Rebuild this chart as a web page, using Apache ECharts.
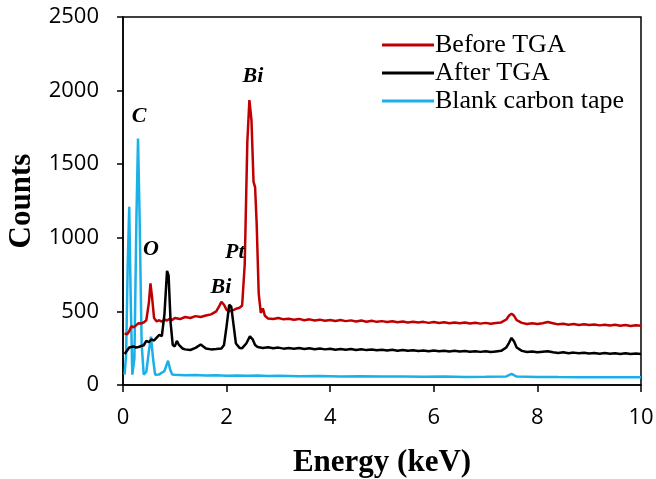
<!DOCTYPE html>
<html>
<head>
<meta charset="utf-8">
<script src="https://cdn.jsdelivr.net/npm/echarts@6/dist/echarts.min.js"></script>
<style>html,body{margin:0;padding:0;background:#fff;}#c{width:656px;height:479px;}</style>
</head>
<body>
<div id="c"></div>
<script>
// Before TGA (red)
var beforeE = [0.03,0.08,0.12,0.16,0.20,0.25,0.30,0.35,0.40,0.45,0.50,0.53,0.56,0.60,0.65,0.70,0.75,0.80,0.85,0.90,0.95,1.0,1.1,1.2,1.3,1.4,1.5,1.6,1.7,1.8,1.85,1.9,1.95,2.0,2.05,2.1,2.15,2.2,2.25,2.3,2.35,2.40,2.44,2.48,2.52,2.55,2.58,2.62,2.66,2.70,2.74,2.8,2.9,3.0,3.1,3.2,3.3,3.4,3.5,3.6,3.7,3.8,3.9,4.0,4.1,4.2,4.3,4.4,4.5,4.6,4.7,4.8,4.9,5.0,5.1,5.2,5.3,5.4,5.5,5.6,5.7,5.8,5.9,6.0,6.1,6.2,6.3,6.4,6.5,6.6,6.7,6.8,6.9,7.0,7.1,7.2,7.3,7.4,7.45,7.5,7.55,7.6,7.7,7.8,7.9,8.0,8.1,8.2,8.3,8.4,8.5,8.6,8.7,8.8,8.9,9.0,9.1,9.2,9.3,9.4,9.5,9.6,9.7,9.8,9.9,10.0];
var beforeC = [350,345,365,400,392,405,420,418,425,440,560,690,600,455,432,440,430,445,438,450,442,455,448,462,455,468,462,472,480,500,530,565,545,510,500,505,512,520,525,540,820,1650,1935,1800,1380,1345,1100,620,490,520,470,452,448,455,446,450,443,449,440,446,438,444,437,442,435,441,434,439,432,438,430,436,429,434,428,433,426,432,425,430,424,429,422,428,421,426,420,425,419,424,418,423,417,422,416,421,425,445,470,485,470,440,422,415,419,414,420,428,420,412,416,410,414,408,413,407,411,405,410,404,409,403,407,401,406,402];

// After TGA (black)
var afterE = [0.03,0.08,0.12,0.15,0.20,0.25,0.30,0.35,0.40,0.45,0.50,0.55,0.60,0.65,0.70,0.75,0.80,0.85,0.88,0.92,0.96,1.0,1.04,1.08,1.15,1.2,1.3,1.4,1.5,1.55,1.6,1.7,1.8,1.9,1.95,2.0,2.05,2.09,2.13,2.18,2.25,2.3,2.38,2.45,2.5,2.55,2.6,2.7,2.8,2.9,3.0,3.1,3.2,3.3,3.4,3.5,3.6,3.7,3.8,3.9,4.0,4.1,4.2,4.3,4.4,4.5,4.6,4.7,4.8,4.9,5.0,5.1,5.2,5.3,5.4,5.5,5.6,5.7,5.8,5.9,6.0,6.1,6.2,6.3,6.4,6.5,6.6,6.7,6.8,6.9,7.0,7.1,7.2,7.3,7.4,7.45,7.5,7.55,7.6,7.7,7.8,7.9,8.0,8.1,8.2,8.3,8.4,8.5,8.6,8.7,8.8,8.9,9.0,9.1,9.2,9.3,9.4,9.5,9.6,9.7,9.8,9.9,10.0];
var afterC = [210,235,255,245,262,255,258,265,270,300,292,310,302,322,340,332,480,775,745,420,272,262,300,272,248,242,238,252,275,262,248,242,244,248,272,400,545,532,420,282,252,250,282,330,312,272,258,252,256,249,254,247,252,246,251,244,249,243,248,242,246,240,245,239,244,238,243,237,241,236,240,234,239,233,238,232,236,231,235,230,234,229,233,228,232,227,231,226,230,225,229,224,228,232,255,285,320,295,255,232,224,228,222,226,229,222,218,222,216,220,215,219,214,218,213,217,212,216,211,215,210,214,211];

// Blank carbon tape (blue)
var blankE = [0.03,0.06,0.09,0.12,0.15,0.18,0.22,0.26,0.29,0.32,0.36,0.40,0.45,0.50,0.54,0.58,0.62,0.70,0.80,0.87,0.91,0.95,1.0,1.2,1.4,1.6,1.8,2.0,2.2,2.4,2.6,2.8,3.0,3.4,3.8,4.2,4.6,5.0,5.4,5.8,6.2,6.6,7.0,7.4,7.5,7.6,8.0,8.4,8.8,9.2,9.6,10.0];
var blankC = [70,200,800,1210,560,70,180,1150,1675,1150,280,70,90,230,328,180,70,72,95,165,105,72,70,66,68,64,66,63,65,62,64,61,63,60,61,58,59,57,58,56,57,55,56,58,75,57,55,54,53,53,52,52];

// Peak annotations (element labels)
var peakLabels = ['C', 'O', 'Bi', 'Pt', 'Bi'];
var peakLabelE = [0.31, 0.54, 2.51, 2.16, 1.89];
var peakLabelC = [1823, 922, 2095, 902, 664];

var seriesNames = ['Before TGA', 'After TGA', 'Blank carbon tape'];
var xTicks = [0, 2, 4, 6, 8, 10];
var yTicks = [0, 500, 1000, 1500, 2000, 2500];

function pairs(e, c) { return e.map(function (v, i) { return [v, c[i]]; }); }

var chart = echarts.init(document.getElementById('c'), null, {renderer: 'canvas'});
var serif = '"Liberation Serif", "Times New Roman", serif';
var sans = '"Open Sans", "Noto Sans", sans-serif';
chart.setOption({
  animation: false,
  backgroundColor: '#fff',
  grid: {left: 123, right: 15, top: 17, bottom: 94, containLabel: false, outerBoundsMode: 'none',
    show: true, borderColor: '#000', borderWidth: 1.5, backgroundColor: 'transparent'},
  legend: {
    orient: 'vertical', left: 377, top: 27, itemWidth: 52, itemHeight: 3, itemGap: 2, icon: 'rect',
    textStyle: {fontFamily: serif, fontSize: 26, color: '#000', padding: [0, 0, 0, -4]},
    data: seriesNames
  },
  xAxis: {
    type: 'value', min: 0, max: 10, interval: 2,
    name: 'Energy (keV)', nameLocation: 'middle', nameGap: 62,
    nameTextStyle: {fontFamily: serif, fontSize: 31, fontWeight: 'bold', color: '#000'},
    axisLine: {lineStyle: {color: '#000', width: 1.5}},
    axisTick: {show: true, inside: false, length: 7, lineStyle: {color: '#000', width: 1.5}},
    axisLabel: {fontFamily: sans, fontSize: 22, color: '#000', margin: 22,
      formatter: function (v) { return xTicks.indexOf(v) >= 0 ? String(v) : ''; }},
    splitLine: {show: false}
  },
  yAxis: {
    type: 'value', min: 0, max: 2500, interval: 500,
    name: 'Counts', nameLocation: 'middle', nameGap: 74,
    nameTextStyle: {fontFamily: serif, fontSize: 31, fontWeight: 'bold', color: '#000'},
    axisLine: {show: true, lineStyle: {color: '#000', width: 1.5}},
    axisTick: {show: true, inside: false, length: 6, lineStyle: {color: '#000', width: 1.5}},
    axisLabel: {fontFamily: sans, fontSize: 22, color: '#000', margin: 24,
      formatter: function (v) { return yTicks.indexOf(v) >= 0 ? String(v) : ''; }},
    splitLine: {show: false}
  },
  series: [
    {name: seriesNames[0], type: 'line', data: pairs(beforeE, beforeC), showSymbol: false, symbol: 'none', color: '#C00000', lineStyle: {color: '#C00000', width: 2.5}, z: 3},
    {name: seriesNames[1], type: 'line', data: pairs(afterE, afterC), showSymbol: false, symbol: 'none', color: '#000000', lineStyle: {color: '#000000', width: 2.5}, z: 4},
    {name: seriesNames[2], type: 'line', data: pairs(blankE, blankC), showSymbol: false, symbol: 'none', color: '#1AB0E8', lineStyle: {color: '#1AB0E8', width: 2.5}, z: 2},
    {name: 'labels', type: 'scatter', symbolSize: 1, itemStyle: {color: '#000', opacity: 0}, silent: true, z: 5,
     data: peakLabels.map(function (t, i) { return {value: [peakLabelE[i], peakLabelC[i]], name: t}; }),
     label: {show: true, position: 'inside', formatter: function (p) { return p.name; }, opacity: 1,
       textBorderWidth: 0, fontFamily: serif, fontSize: 22, fontWeight: 'bold', fontStyle: 'italic', color: '#000'}}
  ]
});
</script>
</body>
</html>
